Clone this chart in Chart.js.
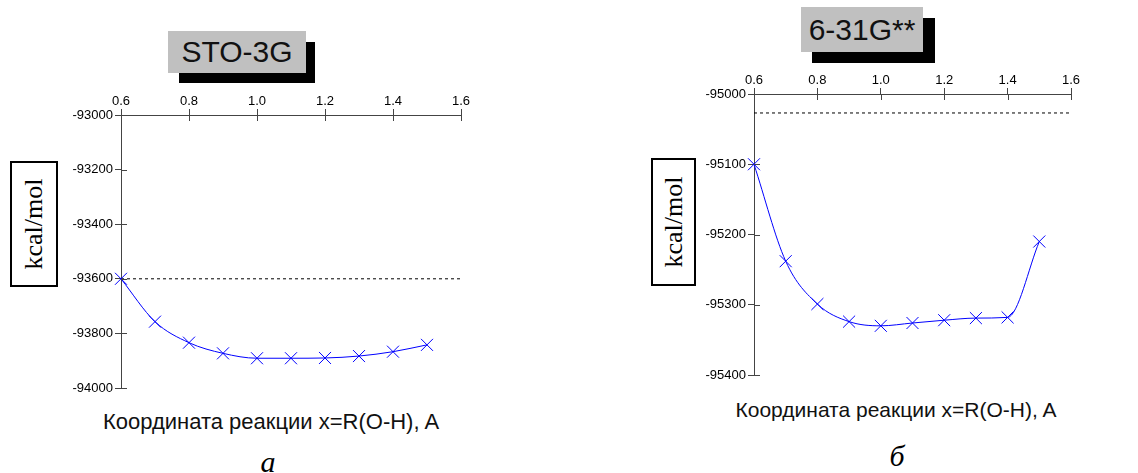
<!DOCTYPE html>
<html>
<head>
<meta charset="utf-8">
<script src="https://cdn.jsdelivr.net/npm/chart.js@4/dist/chart.umd.min.js"></script>
<style>
  body { margin: 0; background: #fff; }
  #page { position: relative; width: 1138px; height: 473px; overflow: hidden; font-family: "Liberation Sans", Arial, sans-serif; }
  .cv { position: absolute; }
  .shadow { position: absolute; background: #000; }
  .tbox { position: absolute; background: #c0c0c0; color: #111; font-size: 30px; text-align: center; }
  .ybox { position: absolute; border: 2px solid #000; background: #fff; box-sizing: border-box; }
  .ybox span { position: absolute; left: 50%; top: 50%; transform: translate(-50%, -50%) rotate(-90deg); white-space: nowrap;
    font-family: "Liberation Serif", "Times New Roman", serif; font-size: 26px; }
  .xtitle { position: absolute; white-space: nowrap; transform: translateX(-50%); color: #111; }
  .sub { position: absolute; font-family: "Liberation Serif", serif; font-style: italic; font-size: 30px; transform: translate(-50%, -50%); }
</style>
</head>
<body>
<div id="page">
  <div class="shadow" style="left:179px;top:42px;width:136px;height:41px"></div>
  <div class="tbox" style="left:168px;top:31px;width:138px;height:42px;line-height:42px">STO-3G</div>
  <div class="shadow" style="left:812px;top:18px;width:123px;height:45px"></div>
  <div class="tbox" style="left:801px;top:7px;width:122px;height:45px;line-height:45px">6-31G**</div>

  <div class="ybox" style="left:10px;top:161px;width:48px;height:126px"><span>kcal/mol</span></div>
  <div class="ybox" style="left:651px;top:158px;width:45px;height:128px"><span>kcal/mol</span></div>

  <canvas id="c1" class="cv" style="left:60px;top:80px" width="421" height="318"></canvas>
  <canvas id="c2" class="cv" style="left:693px;top:59px" width="398" height="326"></canvas>

  <div class="xtitle" style="left:271px;top:409px;font-size:22px">Координата реакции x=R(O-H), A</div>
  <div class="xtitle" style="left:896px;top:398px;font-size:21px">Координата реакции x=R(O-H), A</div>
  <div class="sub" style="left:268px;top:462px">а</div>
  <div class="sub" style="left:897px;top:456px">б</div>
</div>
<script>
// reaction coordinate R(O-H), A
const rValues = [0.6, 0.7, 0.8, 0.9, 1.0, 1.1, 1.2, 1.3, 1.4, 1.5];
const xTickValues = [0.6, 0.8, 1.0, 1.2, 1.4, 1.6];

// STO-3G energies, kcal/mol
const stoEnergy = [-93600, -93757, -93834, -93873, -93891, -93891, -93890, -93883, -93867, -93842];
const stoLimit = -93600;
const stoTicks = [-93000, -93200, -93400, -93600, -93800, -94000];

// 6-31G** energies, kcal/mol
const g631Energy = [-95100, -95238, -95299, -95324, -95330, -95326, -95322, -95319, -95318, -95210];
const g631Limit = -95027;
const g631Ticks = [-95000, -95100, -95200, -95300, -95400];

const axisColor = '#444';
const tickFont = { family: "'Liberation Sans', Arial, sans-serif", size: 13 };

// ticks in the original cross the axis, chart.js only draws the outer half
const innerTicks = {
  id: 'innerTicks',
  afterDraw(chart) {
    const { ctx, chartArea, scales } = chart;
    ctx.save();
    ctx.strokeStyle = axisColor;
    ctx.lineWidth = 1;
    ctx.beginPath();
    scales.x.ticks.forEach(t => {
      const px = Math.round(scales.x.getPixelForValue(t.value)) + 0.5;
      ctx.moveTo(px, chartArea.top);
      ctx.lineTo(px, chartArea.top + 6);
    });
    scales.y.ticks.forEach(t => {
      const py = Math.round(scales.y.getPixelForValue(t.value)) + 0.5;
      ctx.moveTo(chartArea.left, py);
      ctx.lineTo(chartArea.left + 6, py);
    });
    ctx.stroke();
    ctx.restore();
  }
};

function makeChart(id, energy, limit, yTicks) {
  const pts = rValues.map((r, i) => ({ x: r, y: energy[i] }));
  const xMin = xTickValues[0], xMax = xTickValues[xTickValues.length - 1];
  return new Chart(document.getElementById(id), {
    type: 'scatter',
    data: {
      datasets: [{
        data: pts,
        showLine: true,
        borderColor: '#0000ff',
        backgroundColor: '#0000ff',
        borderWidth: 1,
        pointStyle: 'crossRot',
        pointRadius: 8.5,
        pointBorderWidth: 1,
        cubicInterpolationMode: 'monotone',
        clip: false
      }, {
        data: [{ x: xMin, y: limit }, { x: xMax, y: limit }],
        showLine: true,
        borderColor: '#000',
        borderWidth: 1,
        borderDash: [3, 3],
        pointRadius: 0
      }]
    },
    options: {
      responsive: false,
      animation: false,
      layout: { padding: { left: 0, top: 0, right: 20, bottom: 10 } },
      plugins: { legend: { display: false }, tooltip: { enabled: false } },
      scales: {
        x: {
          type: 'linear',
          position: 'top',
          min: xMin,
          max: xMax,
          afterBuildTicks: s => { s.ticks = xTickValues.map(v => ({ value: v })); },
          afterFit: s => { s.height = 35; },
          grid: { drawOnChartArea: false, tickLength: 6, color: axisColor },
          border: { color: axisColor, width: 1 },
          ticks: { color: '#000', font: tickFont, padding: 0, maxRotation: 0, callback: v => v.toFixed(1) }
        },
        y: {
          type: 'linear',
          min: yTicks[yTicks.length - 1],
          max: yTicks[0],
          afterBuildTicks: s => { s.ticks = yTicks.map(v => ({ value: v })); },
          afterFit: s => { s.width = 61; },
          grid: { drawOnChartArea: false, tickLength: 6, color: axisColor },
          border: { color: axisColor, width: 1 },
          ticks: { color: '#000', font: tickFont, padding: 2, callback: v => String(v) }
        }
      }
    },
    plugins: [innerTicks]
  });
}

makeChart('c1', stoEnergy, stoLimit, stoTicks);
makeChart('c2', g631Energy, g631Limit, g631Ticks);
</script>
</body>
</html>
